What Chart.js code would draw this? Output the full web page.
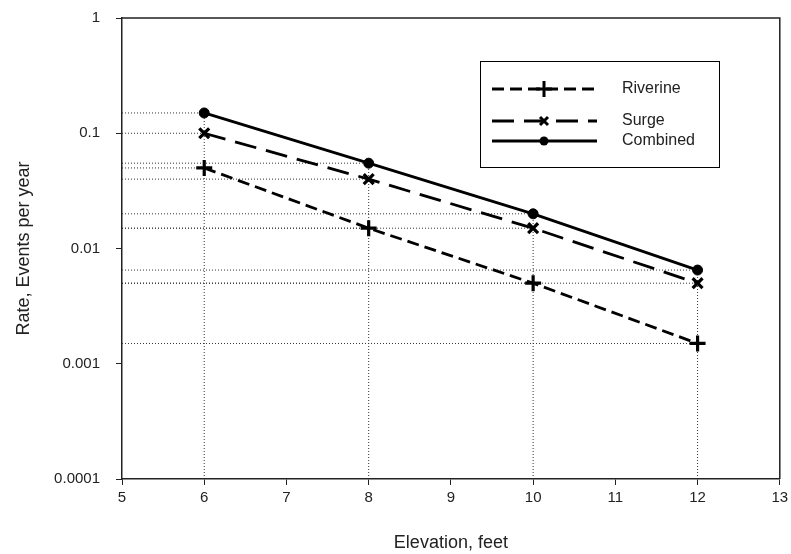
<!DOCTYPE html>
<html>
<head>
<meta charset="utf-8">
<script src="https://cdn.jsdelivr.net/npm/chart.js@4/dist/chart.umd.min.js"></script>
<style>
  html, body { margin: 0; padding: 0; background: #fff; }
  #wrap { width: 791px; height: 554px; }
</style>
</head>
<body>
<div id="wrap"><canvas id="chart" width="791" height="554"></canvas></div>
<script>
// Elevation (feet) and annual event rates
const elevations = [6, 8, 10, 12];
const riverine = [0.05, 0.015, 0.005, 0.0015];
const surge = [0.1, 0.04, 0.015, 0.005];
const combined = [0.15, 0.055, 0.02, 0.0065];
const yTicks = [0.0001, 0.001, 0.01, 0.1, 1];

const FONT = "'Liberation Sans', Arial, sans-serif";
const INK = '#222';

const series = [
  { label: 'Riverine', data: riverine, dash: [12, 6], point: 'cross', radius: 8 },
  { label: 'Surge', data: surge, dash: [22, 10], point: 'crossRot', radius: 7 },
  { label: 'Combined', data: combined, dash: [], point: 'circle', radius: 5 }
];

const datasets = series.map(s => ({
  label: s.label,
  data: elevations.map((x, i) => ({ x: x, y: s.data[i] })),
  borderColor: '#000',
  backgroundColor: '#000',
  borderWidth: 2.8,
  borderDash: s.dash,
  pointStyle: s.point,
  pointRadius: s.radius,
  pointBorderWidth: s.point === 'circle' ? 1 : 3.2,
  pointBackgroundColor: '#000',
  pointBorderColor: '#000',
  tension: 0,
  order: 0
}));

// dotted drop lines from each point to the axes
const dropStyle = {
  borderColor: '#333', borderWidth: 1, borderDash: [1, 2],
  pointRadius: 0, fill: false, order: 10
};
series.forEach(s => {
  s.data.forEach((v, i) => {
    datasets.push(Object.assign({ data: [{ x: 5, y: v }, { x: elevations[i], y: v }] }, dropStyle));
  });
});
elevations.forEach((x, i) => {
  const top = Math.max(riverine[i], surge[i], combined[i]);
  datasets.push(Object.assign({ data: [{ x: x, y: yTicks[0] }, { x: x, y: top }] }, dropStyle));
});

// frame around the plot area plus the boxed legend
const framePlugin = {
  id: 'frame',
  afterDraw(chart) {
    const ctx = chart.ctx;
    const a = chart.chartArea;
    ctx.save();
    ctx.strokeStyle = INK;
    ctx.lineWidth = 1.5;
    ctx.beginPath();
    ctx.moveTo(a.left, a.top);
    ctx.lineTo(a.right, a.top);
    ctx.lineTo(a.right, a.bottom);
    ctx.stroke();

    // legend
    ctx.lineWidth = 1;
    ctx.strokeStyle = '#000';
    ctx.strokeRect(480.5, 61.5, 239, 106);
    const rows = [89, 121, 141];
    ctx.font = '16px ' + FONT;
    ctx.textBaseline = 'middle';
    ctx.textAlign = 'left';
    series.forEach((s, i) => {
      const y = rows[i];
      ctx.strokeStyle = '#000';
      ctx.lineWidth = 2.8;
      ctx.setLineDash(s.dash);
      ctx.beginPath();
      ctx.moveTo(492, y);
      ctx.lineTo(597, y);
      ctx.stroke();
      ctx.setLineDash([]);
      const mx = 544;
      ctx.lineWidth = 3;
      ctx.beginPath();
      if (s.point === 'cross') {
        ctx.moveTo(mx - 8, y); ctx.lineTo(mx + 8, y);
        ctx.moveTo(mx, y - 8); ctx.lineTo(mx, y + 8);
        ctx.stroke();
      } else if (s.point === 'crossRot') {
        ctx.moveTo(mx - 4, y - 4); ctx.lineTo(mx + 4, y + 4);
        ctx.moveTo(mx + 4, y - 4); ctx.lineTo(mx - 4, y + 4);
        ctx.stroke();
      } else {
        ctx.fillStyle = '#000';
        ctx.arc(mx, y, 4.5, 0, Math.PI * 2);
        ctx.fill();
      }
      ctx.fillStyle = INK;
      ctx.fillText(s.label, 622, y);
    });
    ctx.restore();
  }
};

new Chart(document.getElementById('chart'), {
  type: 'line',
  data: { datasets: datasets },
  options: {
    responsive: false,
    animation: false,
    layout: { padding: { top: 18, right: 7, bottom: 0, left: 0 } },
    plugins: { legend: { display: false }, tooltip: { enabled: false } },
    scales: {
      x: {
        type: 'linear',
        min: 5, max: 13,
        ticks: { stepSize: 1, color: INK, font: { family: FONT, size: 15 }, padding: 4, maxRotation: 0 },
        grid: { drawOnChartArea: false, drawTicks: true, tickLength: 6, color: INK },
        border: { display: true, color: INK, width: 1.5 },
        title: { display: true, text: 'Elevation, feet', color: INK, font: { family: FONT, size: 18 }, padding: { top: 10, bottom: 0 } },
        afterFit: scale => { scale.height = 75; scale.paddingRight = 0; scale.paddingLeft = 0; }
      },
      y: {
        type: 'logarithmic',
        min: 0.0001, max: 1,
        afterBuildTicks: scale => { scale.ticks = yTicks.map(v => ({ value: v })); },
        ticks: { color: INK, font: { family: FONT, size: 15 }, padding: 16, callback: v => String(v) },
        grid: { drawOnChartArea: false, drawTicks: true, tickLength: 6, color: INK },
        border: { display: true, color: INK, width: 1.5 },
        title: { display: true, text: 'Rate, Events per year', color: INK, font: { family: FONT, size: 18 }, padding: { top: 13, bottom: 0 } },
        afterFit: scale => { scale.width = 122; scale.paddingTop = 0; scale.paddingBottom = 0; }
      }
    }
  },
  plugins: [framePlugin]
});
</script>
</body>
</html>
